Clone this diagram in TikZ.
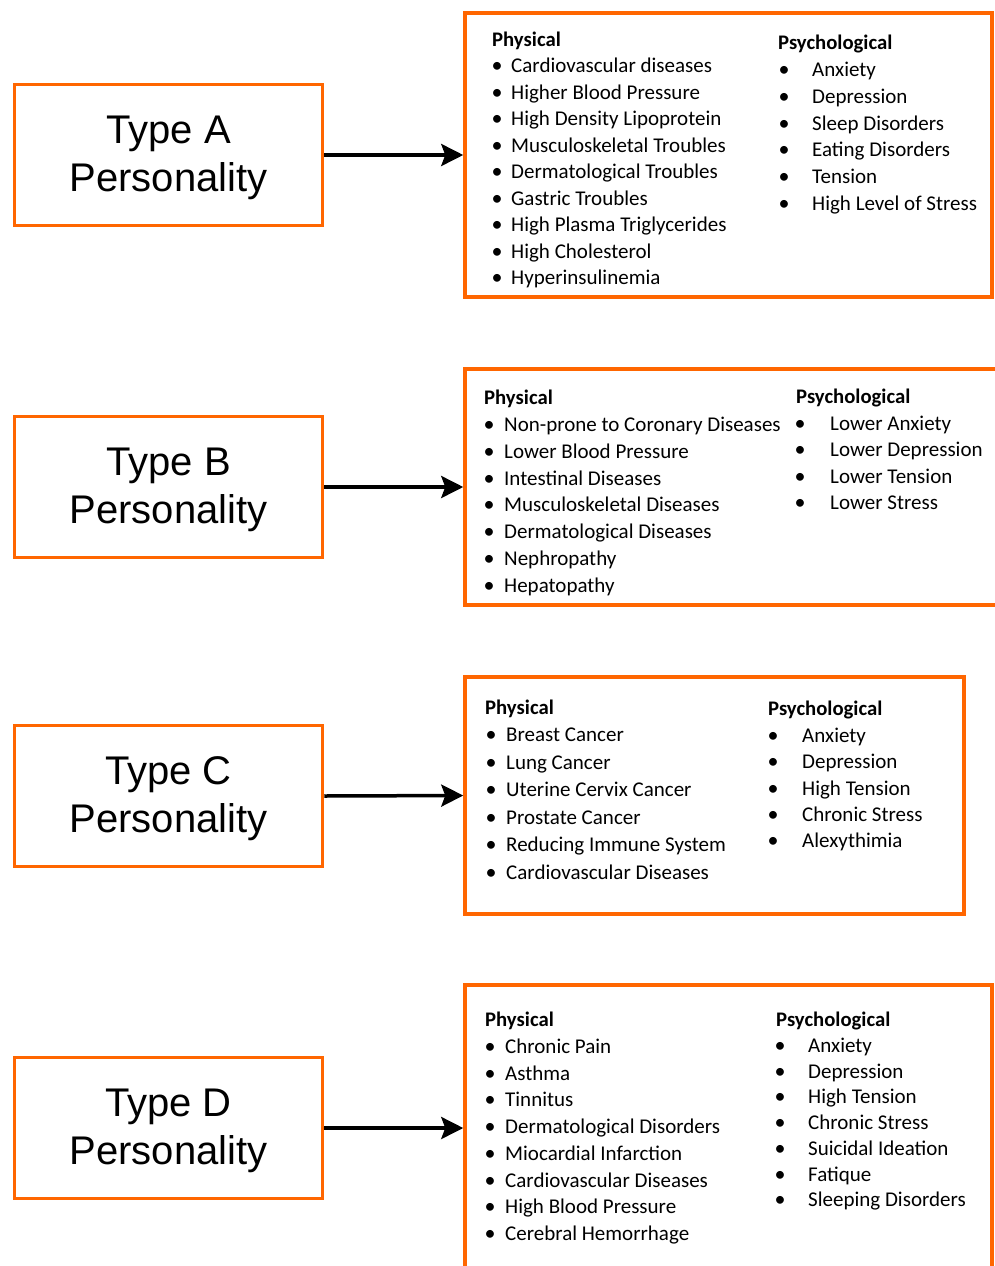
\documentclass[tikz,border=0pt]{standalone}
\usepackage{fontspec}
\setmainfont{Carlito}
\newfontfamily\arialfont{Liberation Sans}
\usetikzlibrary{arrows.meta}
\definecolor{boxorange}{RGB}{255,102,0}
\tikzset{
  lbox/.style={draw=boxorange, line width=3.5pt, fill=white, inner sep=0pt,
    minimum width=308pt, minimum height=140.6pt},
  ltext/.style={align=center, inner sep=0pt, font=\arialfont\fontsize{40pt}{48pt}\selectfont},
  rbox/.style={draw=boxorange, line width=3.5pt, inner sep=0pt},
  arr/.style={line width=3.5pt, -{Stealth[length=22pt,width=22pt,inset=4pt]}},
  item/.style={anchor=base west, inner sep=0pt, font=\fontsize{21pt}{24pt}\selectfont},
  bul/.style={anchor=base, inner sep=0pt, font=\fontsize{22pt}{24pt}\selectfont},
  head/.style={anchor=base west, inner sep=0pt, font=\bfseries\fontsize{20.7pt}{24pt}\selectfont},
}
\newcommand\mklist[6]{%
  \foreach \t [count=\i] in {#6} {
    \node[item] (#1\i) at (#3pt, {-(#4+(\i-1)*#5+7.5)*1pt}) {\t};
    \node[bul] (#1b\i) at (#2pt, {-(#4+(\i-1)*#5+7.5)*1pt}) {•};
  }}
\begin{document}
\begin{tikzpicture}
\useasboundingbox[fill=white] (0pt,0pt) rectangle (995pt,-1266pt);

% ---------- left boxes ----------
\node[lbox] (ta) at (168.5pt,-155pt) {};
\node[lbox] (tb) at (168.5pt,-487pt) {};
\node[lbox] (tc) at (168.5pt,-796pt) {};
\node[lbox] (td) at (168.5pt,-1128pt) {};
\node[ltext] (tat) at (168.5pt,-158pt) {Type A\\Personality};
\node[ltext] (tbt) at (168.5pt,-490pt) {Type B\\Personality};
\node[ltext] (tct) at (168.5pt,-799pt) {Type C\\Personality};
\node[ltext] (tdt) at (168.5pt,-1131pt) {Type D\\Personality};

% ---------- right boxes ----------
\node[rbox, minimum width=527pt, minimum height=284pt] (pa) at (728.5pt,-155pt) {};
\node[rbox, minimum width=545pt, minimum height=236pt] (pb) at (737.5pt,-487pt) {};
\node[rbox, minimum width=499pt, minimum height=237pt] (pc) at (714.5pt,-795.5pt) {};
\node[rbox, minimum width=527pt, minimum height=286pt] (pd) at (728.5pt,-1128pt) {};

% ---------- arrows ----------
\draw[arr] (ta.east) -- (pa.west);
\draw[arr] (tb.east) -- (pb.west);
\draw[arr] (tc.east) -- (pc.west);
\draw[arr] (td.east) -- (pd.west);

% ---------- Type A ----------
\node[head] (ah1) at (492pt,-46.5pt) {Physical};
\mklist{ap}{497}{511}{65}{26.5}{Cardiovascular diseases,Higher Blood Pressure,High Density Lipoprotein,Musculoskeletal Troubles,Dermatological Troubles,Gastric Troubles,High Plasma Triglycerides,High Cholesterol,Hyperinsulinemia}
\node[head] (ah2) at (778pt,-49.5pt) {Psychological};
\mklist{aq}{784}{812}{69}{26.8}{Anxiety,Depression,Sleep Disorders,Eating Disorders,Tension,High Level of Stress}

% ---------- Type B ----------
\node[head] (bh1) at (484pt,-404.5pt) {Physical};
\mklist{bp}{489}{504}{424}{26.8}{Non-prone to Coronary Diseases,Lower Blood Pressure,Intestinal Diseases,Musculoskeletal Diseases,Dermatological Diseases,Nephropathy,Hepatopathy}
\node[head] (bh2) at (796pt,-403.5pt) {Psychological};
\mklist{bq}{800}{830}{423}{26.4}{Lower Anxiety,Lower Depression,Lower Tension,Lower Stress}

% ---------- Type C ----------
\node[head] (ch1) at (485pt,-714.5pt) {Physical};
\mklist{cp}{491}{506}{734}{27.5}{Breast Cancer,Lung Cancer,Uterine Cervix Cancer,Prostate Cancer,Reducing Immune System,Cardiovascular Diseases}
\node[head] (ch2) at (768pt,-715.5pt) {Psychological};
\mklist{cq}{773}{802}{735}{26.3}{Anxiety,Depression,High Tension,Chronic Stress,Alexythimia}

% ---------- Type D ----------
\node[head] (dh1) at (485pt,-1026.5pt) {Physical};
\mklist{dp}{490}{505}{1046}{26.7}{Chronic Pain,Asthma,Tinnitus,Dermatological Disorders,Miocardial Infarction,Cardiovascular Diseases,High Blood Pressure,Cerebral Hemorrhage}
\node[head] (dh2) at (776pt,-1026.5pt) {Psychological};
\mklist{dq}{780}{808}{1045}{25.7}{Anxiety,Depression,High Tension,Chronic Stress,Suicidal Ideation,Fatique,Sleeping Disorders}
\end{tikzpicture}
\end{document}
